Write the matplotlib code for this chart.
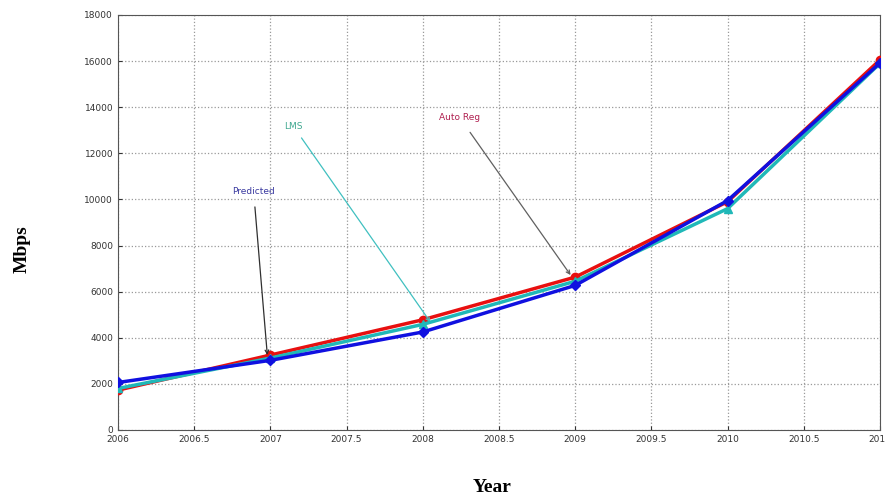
import numpy as np
import matplotlib
matplotlib.use("Agg")
import matplotlib.pyplot as plt

# data
years = [2006, 2007, 2008, 2009, 2010, 2011]
auto_reg = [1730, 3250, 4780, 6630, 9900, 16050]
lms = [1800, 3120, 4580, 6450, 9600, 15900]
predicted = [2060, 3020, 4250, 6270, 9950, 15920]

fig = plt.figure(figsize=(8.85, 4.99), dpi=100)
ax = fig.add_axes([0.1333, 0.1383, 0.861, 0.8317])

ax.plot(years, auto_reg, color='#e81010', lw=2.5, marker='o', ms=6, zorder=3)
ax.plot(years, lms, color='#20b8b8', lw=2.5, marker='^', ms=6, zorder=4)
ax.plot(years, predicted, color='#1010e0', lw=2.5, marker='D', ms=5, zorder=5)

ax.set_xlim(2006, 2011)
ax.set_ylim(0, 18000)
ax.set_xticks(np.arange(2006, 2011.01, 0.5))
ax.set_yticks(np.arange(0, 18001, 2000))
ax.set_xticklabels(['2006', '2006.5', '2007', '2007.5', '2008', '2008.5',
                    '2009', '2009.5', '2010', '2010.5', '2011'])
ax.tick_params(labelsize=6.5, direction='in', length=3, colors='#333333')
ax.grid(True, ls=':', color='#999999', lw=0.9)
for s in ax.spines.values():
    s.set_color('#555555')
    s.set_linewidth(0.8)

# annotations with arrows
ax.annotate('Predicted', xy=(2006.98, 3250), xytext=(2006.89, 10350),
            fontsize=6.5, color='#3a3aa0', ha='center', va='center',
            arrowprops=dict(arrowstyle='->', color='#303030', lw=0.9,
                            shrinkA=6, shrinkB=0))
ax.annotate('LMS', xy=(2008.05, 4680), xytext=(2007.15, 13180),
            fontsize=6.5, color='#40a890', ha='center', va='center',
            arrowprops=dict(arrowstyle='->', color='#40c0c0', lw=0.9,
                            shrinkA=4, shrinkB=0))
ax.annotate('Auto Reg', xy=(2008.97, 6720), xytext=(2008.24, 13570),
            fontsize=6.5, color='#b02050', ha='center', va='center',
            arrowprops=dict(arrowstyle='->', color='#606060', lw=0.9,
                            shrinkA=7, shrinkB=0))

fig.text(0.025, 0.5, 'Mbps', rotation=90, ha='center', va='center',
         fontsize=14, fontweight='bold', family='Liberation Serif')
fig.text(0.556, 0.024, 'Year', ha='center', va='center',
         fontsize=14, fontweight='bold', family='Liberation Serif')

fig.savefig('out.png', dpi=100)
